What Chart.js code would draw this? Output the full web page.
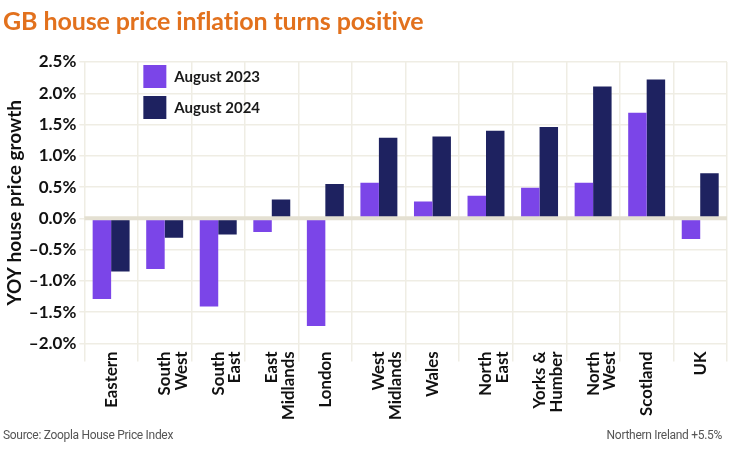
<!DOCTYPE html>
<html><head><meta charset="utf-8">
<script src="https://cdn.jsdelivr.net/npm/chart.js@4.4.0/dist/chart.umd.min.js"></script>
<style>
html,body{margin:0;padding:0;background:#fff;}
#wrap{position:relative;width:730px;height:455px;overflow:hidden;}
canvas{position:absolute;left:0;top:0;}
#title{position:absolute;left:3px;top:5px;font:700 25px Lato, sans-serif;color:#e2711d;white-space:nowrap;letter-spacing:-0.1px;}
.foot{position:absolute;top:428px;font:400 12px Roboto, sans-serif;color:#555;white-space:nowrap;letter-spacing:-0.3px;}
</style></head><body>
<div id="wrap"><canvas id="c" width="730" height="455"></canvas>
<div id="title">GB house price inflation turns positive</div>
<div class="foot" style="left:3px">Source: Zoopla House Price Index</div>
<div class="foot" style="right:8px">Northern Ireland +5.5%</div>
</div>
<script>
const categories = [["Eastern"],["South","West"],["South","East"],["East","Midlands"],["London"],["West","Midlands"],["Wales"],["North","East"],["Yorks &","Humber"],["North","West"],["Scotland"],["UK"]];
const seriesNames = ["August 2023","August 2024"];
const aug2023 = [-1.29,-0.81,-1.41,-0.22,-1.72,0.57,0.27,0.36,0.49,0.57,1.69,-0.33];
const aug2024 = [-0.85,-0.31,-0.26,0.30,0.55,1.29,1.31,1.40,1.46,2.11,2.22,0.72];
const yTicks = [-2.0,-1.5,-1.0,-0.5,0.0,0.5,1.0,1.5,2.0,2.5];
const colors = ["#7b45e8","#1e2260"];
const gridColor = "#efede4";
const zeroColor = "#e4e0d2";
const FONT = "Lato";

const zeroLine = {
  id:'zeroLine',
  afterDatasetsDraw(chart){
    const y = chart.scales.y.getPixelForValue(0);
    const ctx = chart.ctx; const a = chart.chartArea;
    ctx.save(); ctx.strokeStyle = zeroColor; ctx.lineWidth = 4;
    ctx.beginPath(); ctx.moveTo(a.left, y); ctx.lineTo(a.right, y); ctx.stroke(); ctx.restore();
  }
};
const customLegend = {
  id:'customLegend',
  afterDraw(chart){
    const ctx = chart.ctx; const a = chart.chartArea;
    ctx.save();
    chart.data.datasets.forEach((ds,i)=>{
      const x = a.left + 59, y = a.top + 3 + i*31;
      ctx.fillStyle = ds.backgroundColor; ctx.fillRect(x, y, 23, 23);
      ctx.fillStyle = "#1a1a1a"; ctx.font = "700 15px " + FONT; ctx.textBaseline = "middle";
      ctx.fillText(ds.label, x + 31, y + 12);
    });
    ctx.restore();
  }
};

new Chart(document.getElementById('c'), {
  type:'bar',
  data:{ labels: categories, datasets:[
    {label: seriesNames[0], data: aug2023, backgroundColor: colors[0]},
    {label: seriesNames[1], data: aug2024, backgroundColor: colors[1]}
  ]},
  options:{
    responsive:false, animation:false, devicePixelRatio:1,
    layout:{padding:{top:62,right:3,left:0,bottom:32}},
    datasets:{bar:{barPercentage:1, categoryPercentage:0.69}},
    plugins:{legend:{display:false}, tooltip:{enabled:false}, title:{display:false}},
    scales:{
      x:{
        afterFit(s){ s.height += 13; },
        grid:{color:gridColor, lineWidth:1.5, offset:true, drawTicks:true, tickLength:18},
        border:{display:false},
        ticks:{maxRotation:90, minRotation:90, padding:-10, color:"#111", font:{family:FONT, weight:'700', size:16.8, lineHeight:1.0}}
      },
      y:{
        min:-2, max:2.5, afterBuildTicks(s){ s.ticks = yTicks.map(v=>({value:v})); },
        grid:{color:gridColor, lineWidth:1.5, tickLength:5},
        border:{display:false},
        title:{display:true, text:"YOY house price growth", color:"#111", font:{family:FONT, weight:'700', size:19}, padding:{top:3,bottom:0}},
        ticks:{padding:3, color:"#111", font:{family:FONT, weight:'700', size:17}, callback:v=> (v<0?"–":"") + Math.abs(v).toFixed(1) + "%"}
      }
    }
  },
  plugins:[zeroLine, customLegend]
});
</script>
</body></html>
